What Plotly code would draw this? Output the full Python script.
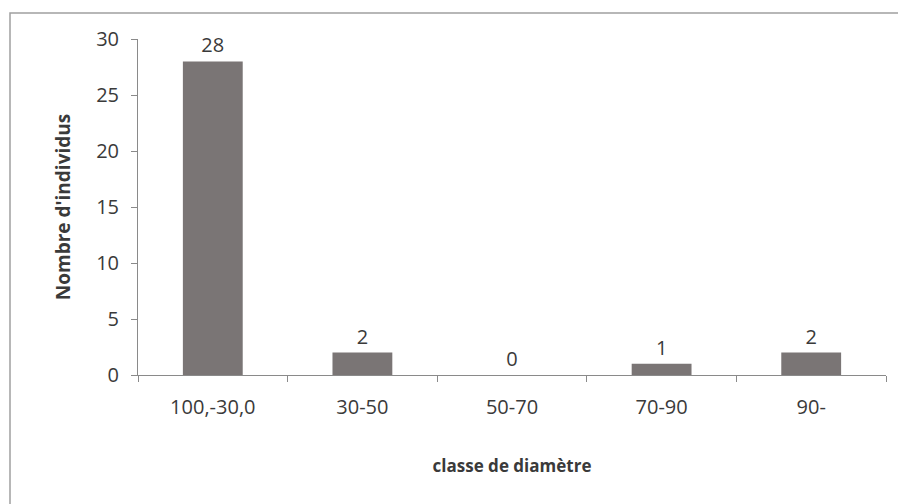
import plotly.graph_objects as go

categories = ["100,-30,0", "30-50", "50-70", "70-90", "90-"]
values = [28, 2, 0, 1, 2]
y_ticks = [0, 5, 10, 15, 20, 25, 30]

font_family = "Open Sans, Lato, sans-serif"

# page body has an 8px margin, so the figure is sized to fit inside the window
W, H = 898, 496
L, T, R, B = 130, 31, 20, 129

fig = go.Figure(go.Bar(
    x=categories, y=values,
    marker=dict(color="#7a7575", line=dict(width=0)),
    width=0.4,
    text=[str(v) for v in values],
    textposition="outside",
    cliponaxis=False,
    textfont=dict(size=20, color="#3a3a3a", family=font_family),
))

fig.update_layout(
    width=W, height=H,
    margin=dict(l=L, r=R, t=T, b=B),
    paper_bgcolor="white", plot_bgcolor="white",
    showlegend=False,
    font=dict(family=font_family, color="#3a3a3a"),
    xaxis=dict(
        showline=True, linecolor="#8a8a8a", linewidth=1,
        ticks="outside", tickson="boundaries", ticklen=6, tickcolor="#8a8a8a",
        tickfont=dict(size=20, color="#3a3a3a"),
        ticklabelstandoff=14,
        title=dict(text="<b>classe de diamètre</b>", font=dict(size=17, color="#3a3a3a"), standoff=41),
        showgrid=False,
    ),
    yaxis=dict(
        range=[0, 30], tickvals=y_ticks,
        showline=True, linecolor="#8a8a8a", linewidth=1,
        ticks="outside", ticklen=6, tickcolor="#8a8a8a",
        tickfont=dict(size=20, color="#3a3a3a"),
        ticklabelstandoff=8,
        title=dict(text="<b>Nombre d'individus</b>", font=dict(size=19, color="#3a3a3a"), standoff=20),
        showgrid=False, zeroline=False,
    ),
    shapes=[dict(
        type="rect", xref="paper", yref="paper",
        x0=(2 - L) / (W - L - R), x1=1.05,
        y0=-0.5, y1=1 + (T - 5) / (H - T - B),
        line=dict(color="#a0a0a0", width=1.5), fillcolor="rgba(0,0,0,0)",
        layer="below",
    )],
)

fig.write_html("out.html")
